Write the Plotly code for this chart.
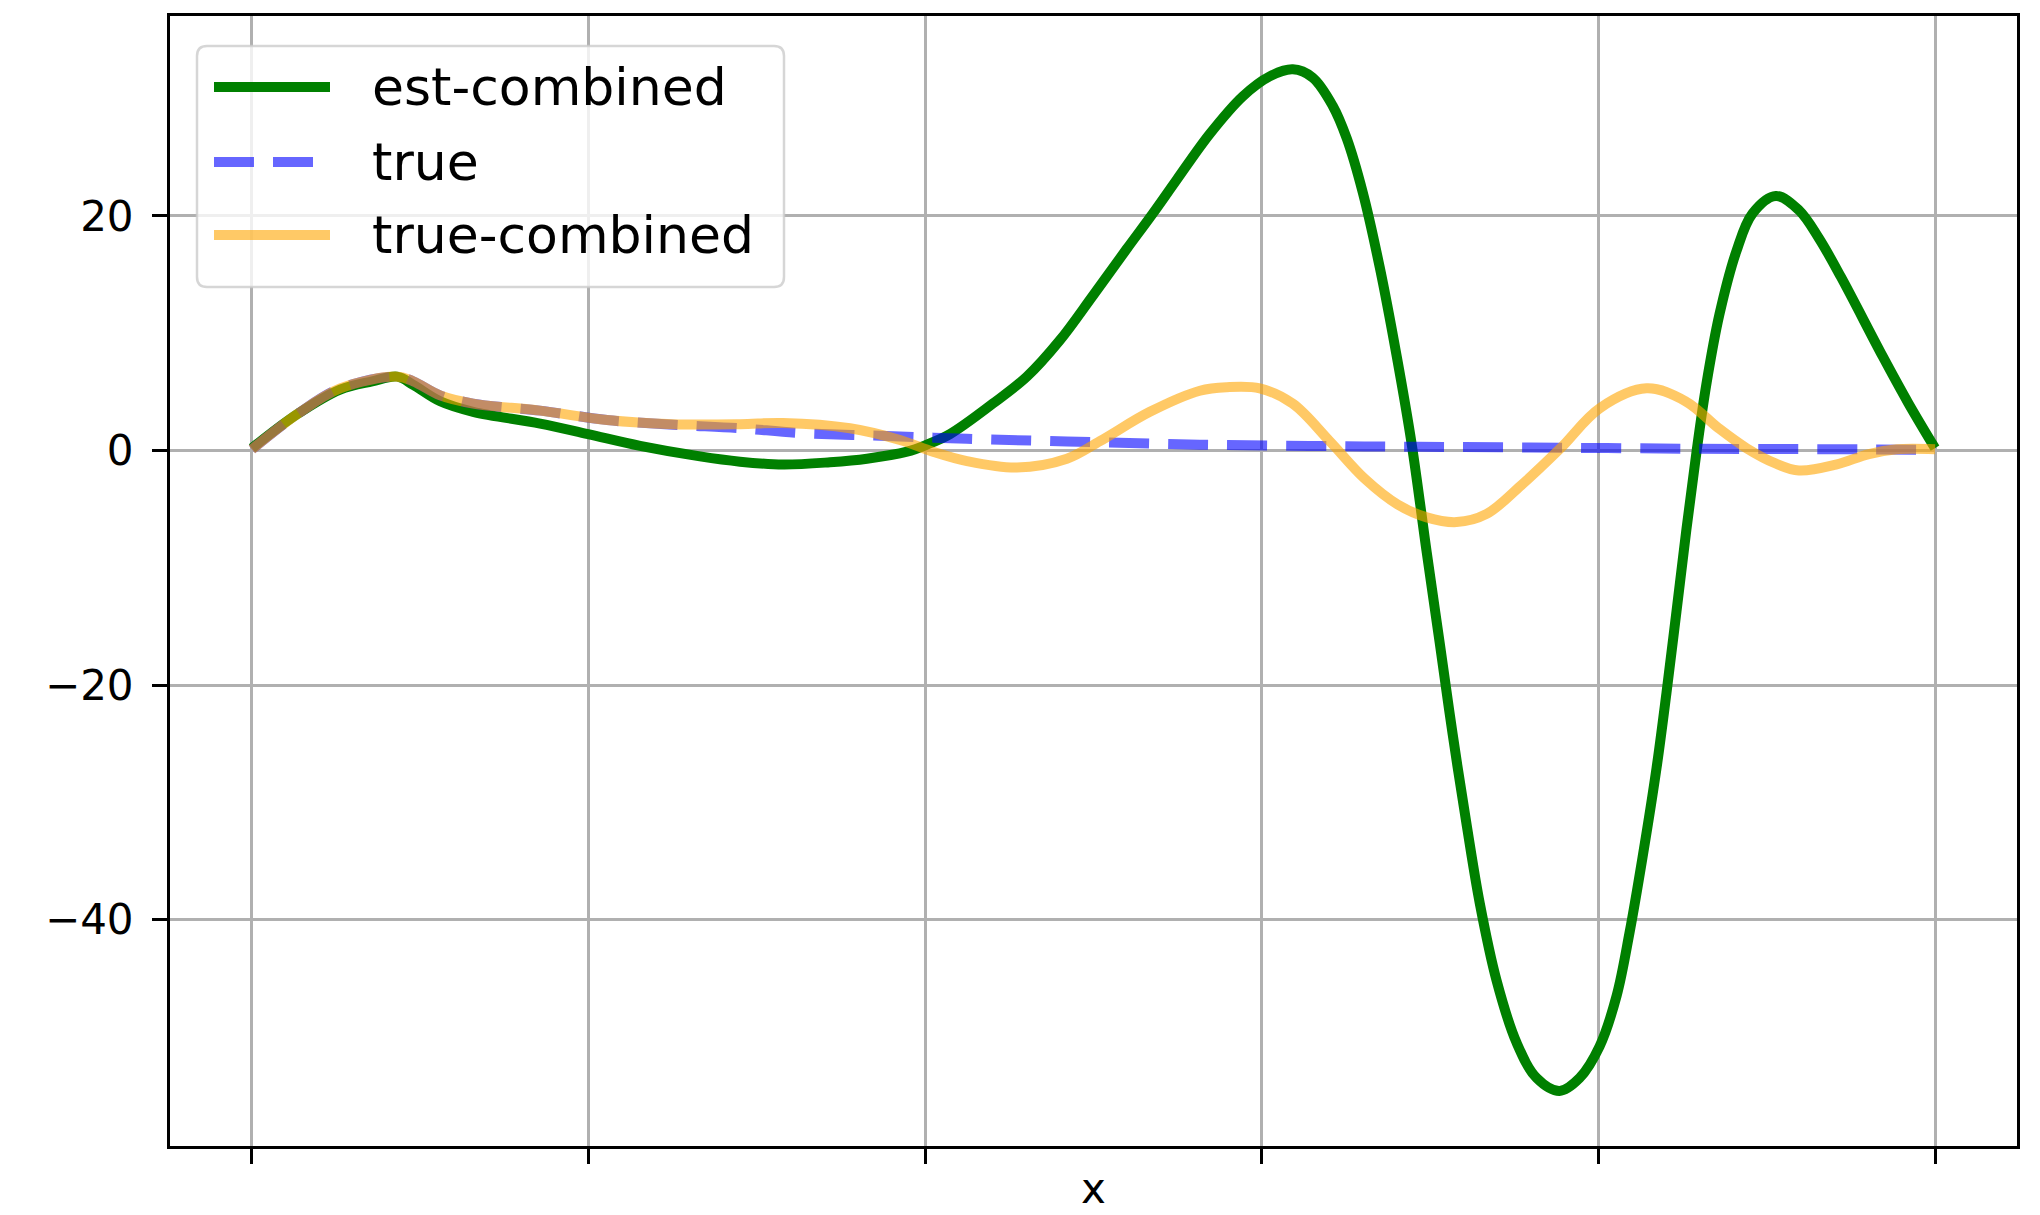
import plotly.graph_objects as go

# ---- series: x positions (0..1) and values ----
est_x = [0.0, 0.0269, 0.0524, 0.0714, 0.0863, 0.0958, 0.1118, 0.1314, 0.1712, 0.1997,
         0.2306, 0.2662, 0.2900, 0.3155, 0.3434, 0.3654, 0.3892, 0.4010, 0.4147, 0.4402,
         0.4604, 0.4800, 0.4996, 0.5198, 0.5352, 0.5495, 0.5691, 0.5887, 0.6047, 0.6184,
         0.6302, 0.6421, 0.6505, 0.6600, 0.6701, 0.6802, 0.6891, 0.6980, 0.7057, 0.7134,
         0.7218, 0.7295, 0.7395, 0.7514, 0.7633, 0.7769, 0.7888, 0.8007, 0.8108, 0.8185,
         0.8262, 0.8345, 0.8404, 0.8464, 0.8523, 0.8582, 0.8642, 0.8719, 0.8820, 0.8915,
         0.9054, 0.9191, 0.9310, 0.9441, 0.9690, 0.9839, 1.0]
est_y = [0.2, 3.1, 5.2, 5.9, 6.3, 5.6, 4.2, 3.3, 2.3, 1.4,
         0.4, -0.5, -0.95, -1.2, -1.0, -0.7, -0.1, 0.5, 1.4, 4.0,
         6.3, 9.4, 13.2, 17.2, 20.2, 23.1, 27.0, 30.2, 31.9, 32.5,
         31.8, 29.4, 26.6, 22.0, 15.6, 8.0, 0.5, -8.7, -16.4, -24.2,
         -32.0, -38.6, -45.2, -50.5, -53.5, -54.6, -53.5, -50.8, -46.5, -41.1,
         -34.7, -27.1, -20.7, -13.7, -6.7, -0.2, 5.7, 11.6, 17.0, 20.2,
         21.7, 20.5, 18.1, 14.8, 8.0, 4.1, 0.2]

true_x = [0.0, 0.0269, 0.0524, 0.0863, 0.0958, 0.1118, 0.1314, 0.1712, 0.2110, 0.2502,
          0.2900, 0.3256, 0.3850, 0.4248, 0.4842, 0.5632, 0.6611, 0.7591, 0.8600, 0.9560,
          1.0]
true_y = [0.1, 3.1, 5.3, 6.3, 5.9, 4.7, 4.0, 3.4, 2.6, 2.2,
          1.9, 1.5, 1.2, 1.0, 0.77, 0.5, 0.35, 0.26, 0.15, 0.1,
          0.05]

tc_x = [0.0, 0.0269, 0.0524, 0.0863, 0.0958, 0.1118, 0.1314, 0.1712, 0.2110, 0.2502,
        0.2900, 0.3155, 0.3553, 0.3850, 0.4046, 0.4248, 0.4545, 0.4842, 0.5038, 0.5335,
        0.5632, 0.5792, 0.5988, 0.6184, 0.6403, 0.6611, 0.6807, 0.6980, 0.7158, 0.7336,
        0.7538, 0.7775, 0.8007, 0.8286, 0.8518, 0.8714, 0.8880, 0.9052, 0.9191, 0.9411,
        0.9607, 0.9773, 1.0]
tc_y = [0.1, 3.1, 5.3, 6.3, 5.9, 4.7, 4.0, 3.4, 2.6, 2.25,
        2.25, 2.35, 1.9, 0.9, -0.1, -0.9, -1.45, -0.7, 0.8, 3.3,
        5.1, 5.4, 5.3, 4.0, 0.8, -2.4, -4.6, -5.7, -6.1, -5.4,
        -3.0, 0.2, 3.6, 5.3, 4.2, 1.9, 0.2, -1.1, -1.7, -1.2,
        -0.3, 0.1, 0.1]

x_ticks = [0.0, 0.2, 0.4, 0.6, 0.8, 1.0]
y_ticks = [-40, -20, 0, 20]
x_label = "x"

names = ["est-combined", "true", "true-combined"]
colors = ["#008000", "rgba(0,0,255,0.6)", "rgba(255,165,0,0.6)"]
dashes = ["solid", "40px,19px", "solid"]

FONT = "DejaVu Sans"
W, H = 2040, 1215
ML, MR, MT, MB = 170, 23, 16, 69
PW, PH = W - ML - MR, H - MT - MB

fig = go.Figure()
for xs, ys, name, col, dash in zip([est_x, true_x, tc_x], [est_y, true_y, tc_y],
                                   names, colors, dashes):
    fig.add_trace(go.Scatter(
        x=xs, y=ys, mode="lines", name=name, showlegend=False,
        line=dict(color=col, width=10, dash=dash, shape="spline", smoothing=1.0),
    ))


# legend box drawn in paper coordinates (pixel helpers relative to plot area)
def px(xp):
    return (xp - ML) / PW


def py(yp):
    return (MT + PH - yp) / PH


L, R, T, B, r = 197, 784, 46, 287, 10
box = (f"M {px(L + r)},{py(T)} L {px(R - r)},{py(T)} Q {px(R)},{py(T)} {px(R)},{py(T + r)} "
       f"L {px(R)},{py(B - r)} Q {px(R)},{py(B)} {px(R - r)},{py(B)} "
       f"L {px(L + r)},{py(B)} Q {px(L)},{py(B)} {px(L)},{py(B - r)} "
       f"L {px(L)},{py(T + r)} Q {px(L)},{py(T)} {px(L + r)},{py(T)} Z")
fig.add_shape(type="path", path=box, xref="paper", yref="paper",
              fillcolor="rgba(255,255,255,0.8)",
              line=dict(color="rgba(204,204,204,0.8)", width=2.5), layer="above")

row_y = [87, 162, 235]
for yy, name, col, dash in zip(row_y, names, colors, dashes):
    fig.add_shape(type="line", xref="paper", yref="paper",
                  x0=px(214), x1=px(330), y0=py(yy), y1=py(yy),
                  line=dict(color=col, width=10, dash=dash), layer="above")
    fig.add_annotation(text=name, xref="paper", yref="paper", x=px(370), y=py(yy),
                       xanchor="left", yanchor="middle", showarrow=False,
                       font=dict(family=FONT, size=52, color="black"))

# x-axis label placed under the axis
fig.add_annotation(text=x_label, xref="paper", yref="paper", x=0.5, y=py(1188),
                   xanchor="center", yanchor="middle", showarrow=False,
                   font=dict(family=FONT, size=42, color="black"))

axis_common = dict(
    showline=True, mirror=True, linecolor="black", linewidth=3,
    ticks="outside", ticklen=15, tickwidth=3, tickcolor="black",
    showgrid=True, gridcolor="#b0b0b0", gridwidth=3, zeroline=False,
    tickfont=dict(family=FONT, size=42, color="black"),
    automargin=False,
)

fig.update_layout(
    width=W, height=H,
    margin=dict(l=ML, r=MR, t=MT, b=MB),
    paper_bgcolor="white", plot_bgcolor="white",
    showlegend=False,
    xaxis=dict(range=[-0.0487, 1.0487], tickvals=x_ticks, showticklabels=False,
               **axis_common),
    yaxis=dict(range=[-59.3, 37.05], tickvals=y_ticks, ticklabelstandoff=10,
               **axis_common),
)

fig.write_html("out.html")
